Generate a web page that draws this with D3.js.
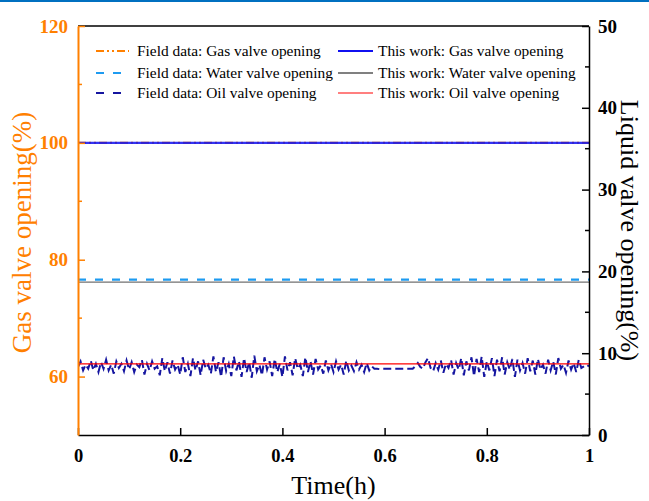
<!DOCTYPE html>
<html><head><meta charset="utf-8">
<script src="https://cdn.jsdelivr.net/npm/d3@7"></script>
<style>body{margin:0;background:#fff}svg{display:block}text{font-family:"Liberation Serif","Times New Roman",serif}</style>
</head><body><svg id="c" width="649" height="501"></svg>
<script>
// ---- data ----
const xTicks = [0, 0.2, 0.4, 0.6, 0.8, 1];
const xTickLabels = ["0", "0.2", "0.4", "0.6", "0.8", "1"];
const leftTicks = [60, 80, 100, 120];
const leftMinor = [70, 90, 110];
const rightTicks = [0, 10, 20, 30, 40, 50];
const rightMinor = [5, 15, 25, 35, 45];

const gasField = 100;      // left axis
const gasModel = 100;      // left axis
const waterField = 19.0;   // right axis
const waterModel = 18.7;   // right axis
const oilModel = 8.7;      // right axis
const oilField = [
 8.3, 9.0, 7.9, 8.6, 8.1, 9.1, 7.9, 8.7, 7.7, 8.9, 8.1, 9.2, 7.9, 8.6, 7.5, 9.0, 8.2, 8.7, 7.8, 9.1,
 8.0, 8.9, 7.7, 8.6, 8.3, 9.2, 7.4, 8.7, 7.9, 9.0, 8.1, 8.4, 7.3, 9.4, 7.8, 8.9, 7.5, 9.1, 8.0, 8.6,
 7.4, 9.5, 7.7, 8.7, 7.2, 9.4, 7.9, 9.0, 7.3, 9.2, 8.1, 8.6, 7.5, 9.6, 7.7, 8.9, 7.1, 9.5, 7.8, 8.7,
 7.2, 9.6, 7.9, 9.0, 7.1, 9.4, 7.7, 8.9, 7.0, 9.7, 7.8, 8.6, 7.3, 9.5, 8.0, 9.0, 7.2, 9.3, 7.7, 8.7,
 7.1, 9.6, 7.9, 8.9, 7.3, 9.4, 8.1, 8.6, 7.2, 9.5, 7.7, 9.0, 7.4, 9.3, 8.0, 8.5, 7.5, 9.1, 7.9, 8.7,
 7.7, 9.0, 8.0, 8.6, 7.4, 9.1, 7.9, 8.5, 7.8, 8.9, 8.0, 8.6, 7.7, 8.8, 7.9, 8.4,
 8.1, 8.1, 8.05, 8.1, 8.1, 8.1, 8.1, 8.1, 8.1, 8.1, 8.1, 8.1, 8.1, 8.1, 8.1, 8.1,
 8.4, 8.8, 8.3, 8.1, 8.9, 9.4,
 8.2, 7.8, 8.8, 8.0, 9.1, 7.6, 8.7, 8.2, 9.2, 7.4, 8.8, 8.0, 9.4, 7.3, 9.0, 7.9, 9.5, 7.2, 9.3, 7.7,
 9.6, 7.1, 9.0, 7.9, 9.4, 7.2, 9.2, 7.8, 9.5, 7.4, 8.9, 8.0, 9.3, 7.1, 9.2, 7.9, 8.8, 7.5, 9.4, 7.8,
 9.1, 7.4, 9.3, 8.0, 8.6, 7.5, 9.2, 7.9, 9.0, 7.4, 9.4, 8.1, 8.6, 7.6, 9.1, 8.0, 8.8, 7.7, 9.2, 8.2,
 8.4, 8.6, 8.4
];
const legendLeft = ["Field data: Gas valve opening", "Field data: Water valve opening", "Field data: Oil valve opening"];
const legendRight = ["This work: Gas valve opening", "This work: Water valve opening", "This work: Oil valve opening"];

// ---- layout ----
const L = 78, R = 589, T = 26, B = 435;
const ORANGE = "#FF8000";
const svg = d3.select("#c");
const x = d3.scaleLinear().domain([0, 1]).range([L, R]);
const yL = d3.scaleLinear().domain([50, 120]).range([B, T]);
const yR = d3.scaleLinear().domain([0, 50]).range([B, T]);

// top blue rule
svg.append("line").attr("x1", 0).attr("x2", 649).attr("y1", 1).attr("y2", 1).attr("stroke", "#0070C0").attr("stroke-width", 2);

// clip
svg.append("clipPath").attr("id", "clip").append("rect").attr("x", L).attr("y", T).attr("width", R - L).attr("height", B - T);
const plot = svg.append("g").attr("clip-path", "url(#clip)");

const times = oilField.map((d, i) => i / (oilField.length - 1));
const line = d3.line().x(d => x(d[0])).y(d => yR(d[1]));

// field oil (noisy dashed)
plot.append("path").datum(times.map((t, i) => [t, oilField[i]])).attr("d", line)
  .attr("fill", "none").attr("stroke", "#1515A0").attr("stroke-width", 2).attr("stroke-dasharray", "8,4");

// water field (dashed light blue)
plot.append("line").attr("x1", x(0)).attr("x2", x(1)).attr("y1", yR(waterField)).attr("y2", yR(waterField))
  .attr("stroke", "#1E9BF0").attr("stroke-width", 2.2).attr("stroke-dasharray", "8,9");
// water model
plot.append("line").attr("x1", x(0)).attr("x2", x(1)).attr("y1", yR(waterModel)).attr("y2", yR(waterModel))
  .attr("stroke", "#707070").attr("stroke-width", 1.3);
// oil model
plot.append("line").attr("x1", x(0)).attr("x2", x(1)).attr("y1", yR(oilModel)).attr("y2", yR(oilModel))
  .attr("stroke", "#FF0000").attr("stroke-width", 1.2);
// gas field
plot.append("line").attr("x1", x(0)).attr("x2", x(1)).attr("y1", yL(gasField)).attr("y2", yL(gasField))
  .attr("stroke", ORANGE).attr("stroke-width", 2).attr("stroke-dasharray", "8,3,2,3,2,3");
// gas model
plot.append("line").attr("x1", x(0)).attr("x2", x(1)).attr("y1", yL(gasModel)).attr("y2", yL(gasModel))
  .attr("stroke", "#1010F0").attr("stroke-width", 2.2).attr("opacity", 0.85);

// frame top
svg.append("line").attr("x1", L).attr("x2", R).attr("y1", T).attr("y2", T).attr("stroke", "#000").attr("stroke-width", 1.5);

// bottom axis
const gx = svg.append("g").attr("transform", `translate(0,${B})`)
  .call(d3.axisBottom(x).tickValues(xTicks).tickFormat((d, i) => xTickLabels[i]).tickSizeInner(-7).tickSizeOuter(0).tickPadding(14));
gx.select(".domain").attr("stroke", "#000").attr("stroke-width", 1.5);
gx.selectAll(".tick line").attr("stroke", "#000").attr("stroke-width", 1.5);
gx.selectAll(".tick text").attr("font-size", 18.5).attr("font-weight", "bold").attr("fill", "#000")
  .attr("font-family", "Liberation Serif");

// left axis
const gl = svg.append("g").attr("transform", `translate(${L},0)`)
  .call(d3.axisLeft(yL).tickValues(leftTicks).tickSizeInner(-7).tickSizeOuter(0).tickPadding(10));
gl.select(".domain").attr("stroke", ORANGE).attr("stroke-width", 2);
gl.selectAll(".tick line").attr("stroke", ORANGE).attr("stroke-width", 1.5);
gl.selectAll(".tick text").attr("font-size", 19).attr("font-weight", "bold").attr("fill", ORANGE)
  .attr("font-family", "Liberation Serif");
gl.selectAll(".minor").data(leftMinor).enter().append("line")
  .attr("x1", 0).attr("x2", 4).attr("y1", d => yL(d)).attr("y2", d => yL(d)).attr("stroke", ORANGE).attr("stroke-width", 1.5);

// right axis
const gr = svg.append("g").attr("transform", `translate(${R},0)`)
  .call(d3.axisRight(yR).tickValues(rightTicks).tickSizeInner(-7).tickSizeOuter(0).tickPadding(9));
gr.select(".domain").attr("stroke", "#000").attr("stroke-width", 1.5);
gr.selectAll(".tick line").attr("stroke", "#000").attr("stroke-width", 1.5);
gr.selectAll(".tick text").attr("font-size", 19).attr("font-weight", "bold").attr("fill", "#000")
  .attr("font-family", "Liberation Serif");
gr.selectAll(".minor").data(rightMinor).enter().append("line")
  .attr("x1", 0).attr("x2", -4).attr("y1", d => yR(d)).attr("y2", d => yR(d)).attr("stroke", "#000").attr("stroke-width", 1.5);

// axis titles
svg.append("text").attr("transform", `translate(31,${(T + B) / 2 + 2}) rotate(-90)`).attr("text-anchor", "middle")
  .attr("font-size", 27).attr("fill", ORANGE).text("Gas valve opening(%)");
svg.append("text").attr("transform", `translate(621,${(T + B) / 2}) rotate(90)`).attr("text-anchor", "middle")
  .attr("font-size", 26).attr("fill", "#000").text("Liquid valve opening(%)");
svg.append("text").attr("x", (L + R) / 2).attr("y", 494).attr("text-anchor", "middle")
  .attr("font-size", 26).attr("fill", "#000").text("Time(h)");

// legend
const rowsY = [51, 73, 93];
const leftStyles = [
  {c: ORANGE, w: 2, d: "8,3,2,3,2,3"},
  {c: "#1E9BF0", w: 2.2, d: "8,9"},
  {c: "#1515A0", w: 2.2, d: "8,9"}
];
const rightStyles = [
  {c: "#1010F0", w: 2.2, d: null},
  {c: "#808080", w: 2, d: null},
  {c: "#FF0000", w: 1.2, d: null}
];
legendLeft.forEach((t, i) => {
  svg.append("line").attr("x1", 96).attr("x2", 129).attr("y1", rowsY[i]).attr("y2", rowsY[i])
    .attr("stroke", leftStyles[i].c).attr("stroke-width", leftStyles[i].w).attr("stroke-dasharray", leftStyles[i].d);
  svg.append("text").attr("x", 137).attr("y", rowsY[i] + 5).attr("font-size", 15.4).attr("fill", "#000").text(t);
});
legendRight.forEach((t, i) => {
  svg.append("line").attr("x1", 338).attr("x2", 373).attr("y1", rowsY[i]).attr("y2", rowsY[i])
    .attr("stroke", rightStyles[i].c).attr("stroke-width", rightStyles[i].w);
  svg.append("text").attr("x", 378).attr("y", rowsY[i] + 5).attr("font-size", 15.4).attr("fill", "#000").text(t);
});
</script></body></html>
